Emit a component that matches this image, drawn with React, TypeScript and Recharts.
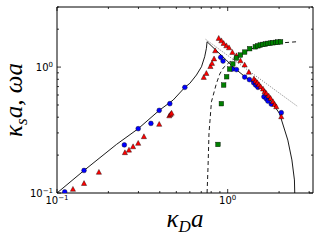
import React from 'react';
import { ComposedChart, Line, Scatter, XAxis, YAxis } from 'recharts';

// log axes: major ticks labelled as powers of ten, minor ticks 2..9
const xTicks = [0.1, 0.2, 0.3, 0.4, 0.5, 0.6, 0.7, 0.8, 0.9, 1, 2, 3];
const yTicks = [0.1, 0.2, 0.3, 0.4, 0.5, 0.6, 0.7, 0.8, 0.9, 1, 2, 3];
const majorTicks = [0.1, 1];
const majorExps = ['\u22121', '0'];

// measured points [kappa_D a, kappa_s a / omega a]
const bluePts = [
  [0.111, 0.102], [0.144, 0.151], [0.248, 0.241], [0.299, 0.324], [0.355, 0.357],
  [0.397, 0.453], [0.458, 0.512], [0.561, 0.69], [0.91, 1.195], [0.939, 1.116],
  [1.065, 0.964], [1.125, 0.955], [1.257, 0.833], [1.34, 0.795], [1.419, 0.751],
  [1.458, 0.72], [1.504, 0.69], [1.63, 0.581], [1.683, 0.56], [1.72, 0.537],
  [1.8, 0.508], [2.06, 0.434],
];

const redPts = [
  [0.124, 0.107], [0.144, 0.119], [0.176, 0.146], [0.25, 0.209], [0.264, 0.219],
  [0.279, 0.233], [0.299, 0.248], [0.323, 0.28], [0.397, 0.351], [0.455, 0.41],
  [0.462, 0.42], [0.469, 0.43],
  [0.724, 0.828], [0.75, 0.89], [0.792, 1.01], [0.809, 1.07], [0.832, 1.16], [0.845, 1.347],
  [0.886, 1.69], [0.918, 1.617], [0.947, 1.54], [0.982, 1.476], [1.018, 1.423],
  [1.065, 1.308], [1.125, 1.23], [1.187, 1.122], [1.257, 1.037], [1.33, 0.91],
  [1.425, 0.804], [1.458, 0.774], [1.492, 0.751], [1.525, 0.724], [1.56, 0.698],
  [1.61, 0.669], [1.646, 0.637], [1.683, 0.618], [1.738, 0.589], [1.783, 0.564],
  [1.841, 0.531], [1.883, 0.505], [1.926, 0.484], [2.06, 0.403],
];

const greenPts = [
  [0.877, 0.243], [0.918, 0.512], [0.947, 0.72], [0.986, 0.838], [1.027, 0.964],
  [1.071, 1.06], [1.125, 1.18], [1.187, 1.245], [1.257, 1.315], [1.345, 1.4],
  [1.452, 1.449], [1.504, 1.476], [1.553, 1.495], [1.611, 1.514], [1.663, 1.523],
  [1.722, 1.542], [1.778, 1.55], [1.841, 1.56], [1.909, 1.571], [1.968, 1.579],
  [2.04, 1.587],
];

// theory curves
const solidPts = [
  [0.1, 0.1], [0.144, 0.151], [0.223, 0.243], [0.299, 0.324], [0.397, 0.453],
  [0.479, 0.547], [0.561, 0.69], [0.6, 0.743], [0.656, 0.865], [0.702, 1.006],
  [0.733, 1.208], [0.75, 1.407], [0.757, 1.59], [0.82, 1.433], [0.982, 1.136],
  [1.071, 1.006], [1.26, 0.84], [1.54, 0.698], [1.76, 0.554], [2.01, 0.429],
  [2.25, 0.263], [2.377, 0.183], [2.46, 0.127], [2.47, 0.1],
];

const dashedPts = [
  [0.757, 0.1], [0.767, 0.162], [0.777, 0.298], [0.803, 0.53], [0.859, 0.742],
  [0.898, 0.88], [0.939, 0.98], [1.027, 1.1], [1.125, 1.2], [1.257, 1.32],
  [1.471, 1.449], [1.8, 1.52], [2.106, 1.56], [2.55, 1.59],
];

const dottedPts = [[0.743, 1.66], [2.55, 0.49]];

const toRows = (pts: number[][]) => pts.map(([x, y]) => ({ x, y }));

const TICK_FONT = 'DejaVu Sans';
const MATH_FONT = 'Liberation Serif';

const XTick = ({ x, y, payload, side }: any) => {
  const i = majorTicks.indexOf(payload.value);
  const len = i >= 0 ? 4 : 2;
  const dir = side === 'top' ? 1 : -1;
  return (
    <g>
      <line x1={x} y1={y} x2={x} y2={y + dir * len} stroke="#000" strokeWidth={0.8} />
      {side === 'bottom' && i >= 0 && (
        <text x={x} y={y + 11} textAnchor="middle" fontFamily={TICK_FONT} fontSize={10} fill="#000">
          10<tspan dy={-4} fontSize={7}>{majorExps[i]}</tspan>
        </text>
      )}
    </g>
  );
};

const YTick = ({ x, y, payload, side }: any) => {
  const i = majorTicks.indexOf(payload.value);
  const len = i >= 0 ? 4 : 2;
  const dir = side === 'right' ? -1 : 1;
  return (
    <g>
      <line x1={x} y1={y} x2={x + dir * len} y2={y} stroke="#000" strokeWidth={0.8} />
      {side === 'left' && i >= 0 && (
        <text x={x - 4} y={y + 4} textAnchor="end" fontFamily={TICK_FONT} fontSize={10} fill="#000">
          10<tspan dy={-4} fontSize={7}>{majorExps[i]}</tspan>
        </text>
      )}
    </g>
  );
};

const XLabel = ({ viewBox }: any) => {
  const vb = viewBox || { x: 57, y: 193, width: 256, height: 47 };
  return (
    <text x={vb.x + vb.width / 2} y={vb.y + 34} textAnchor="middle" fontFamily={MATH_FONT}
      fontStyle="italic" fontSize={25} fill="#000">
      κ<tspan dy={5} fontSize={17}>D</tspan><tspan dy={-5}>a</tspan>
    </text>
  );
};

const YLabel = ({ viewBox }: any) => {
  const vb = viewBox || { x: 0, y: 7, width: 57, height: 186 };
  const x = vb.x + 22;
  const y = vb.y + vb.height / 2;
  return (
    <text x={x} y={y} transform={`rotate(-90, ${x}, ${y})`} textAnchor="middle" fontFamily={MATH_FONT}
      fontStyle="italic" fontSize={25} fill="#000">
      κ<tspan dy={5} fontSize={17}>s</tspan><tspan dy={-5}>a, ωa</tspan>
    </text>
  );
};

const BlueDot = ({ cx, cy }: any) => (
  <circle cx={cx} cy={cy} r={2.4} fill="#0000ff" stroke="#000" strokeWidth={0.4} />
);
const RedTri = ({ cx, cy }: any) => (
  <path d={`M${cx},${cy - 2.9}L${cx + 2.6},${cy + 2}L${cx - 2.6},${cy + 2}Z`} fill="#ff0000" stroke="#000" strokeWidth={0.4} />
);
const GreenSq = ({ cx, cy }: any) => (
  <rect x={cx - 2.3} y={cy - 2.3} width={4.6} height={4.6} fill="#008000" stroke="#000" strokeWidth={0.4} />
);

const xDomain = [0.1, 3.16];
const yDomain = [0.1, 3.0];

export default function App() {
  return (
    <div style={{ position: 'absolute', left: 0, top: 0, width: 320, height: 240, background: '#fff' }}>
      <ComposedChart width={320} height={240} margin={{ top: 6, right: 6, bottom: 0, left: 0 }}>
        <XAxis xAxisId="b" dataKey="x" type="number" scale="log" domain={xDomain} ticks={xTicks}
          interval={0} allowDataOverflow tickLine={false} tickSize={0} tickMargin={0} height={47}
          axisLine={{ stroke: '#000', strokeWidth: 1 }} tick={<XTick side="bottom" />}
          label={<XLabel />} />
        <XAxis xAxisId="t" orientation="top" dataKey="x" type="number" scale="log" domain={xDomain}
          ticks={xTicks} interval={0} allowDataOverflow tickLine={false} tickSize={0} tickMargin={0}
          height={1} axisLine={{ stroke: '#000', strokeWidth: 1 }} tick={<XTick side="top" />} />
        <YAxis yAxisId="l" dataKey="y" type="number" scale="log" domain={yDomain} ticks={yTicks}
          interval={0} allowDataOverflow tickLine={false} tickSize={0} tickMargin={0} width={57}
          axisLine={{ stroke: '#000', strokeWidth: 1 }} tick={<YTick side="left" />}
          label={<YLabel />} />
        <YAxis yAxisId="r" orientation="right" dataKey="y" type="number" scale="log" domain={yDomain}
          ticks={yTicks} interval={0} allowDataOverflow tickLine={false} tickSize={0} tickMargin={0}
          width={1} axisLine={{ stroke: '#000', strokeWidth: 1 }} tick={<YTick side="right" />} />

        <Line xAxisId="b" yAxisId="l" data={toRows(solidPts)} dataKey="y" type="linear"
          stroke="#000" strokeWidth={0.9} dot={false} isAnimationActive={false} />
        <Line xAxisId="b" yAxisId="l" data={toRows(dashedPts)} dataKey="y" type="linear"
          stroke="#000" strokeWidth={0.9} strokeDasharray="4 3" dot={false} isAnimationActive={false} />
        <Line xAxisId="t" yAxisId="r" data={toRows(dottedPts)} dataKey="y" type="linear"
          stroke="#555" strokeWidth={0.8} strokeDasharray="1 1.5" dot={false} isAnimationActive={false} />

        <Scatter xAxisId="b" yAxisId="l" data={toRows(bluePts)} dataKey="y" shape={<BlueDot />}
          isAnimationActive={false} />
        <Scatter xAxisId="b" yAxisId="l" data={toRows(redPts)} dataKey="y" shape={<RedTri />}
          isAnimationActive={false} />
        <Scatter xAxisId="b" yAxisId="l" data={toRows(greenPts)} dataKey="y" shape={<GreenSq />}
          isAnimationActive={false} />
      </ComposedChart>
    </div>
  );
}
